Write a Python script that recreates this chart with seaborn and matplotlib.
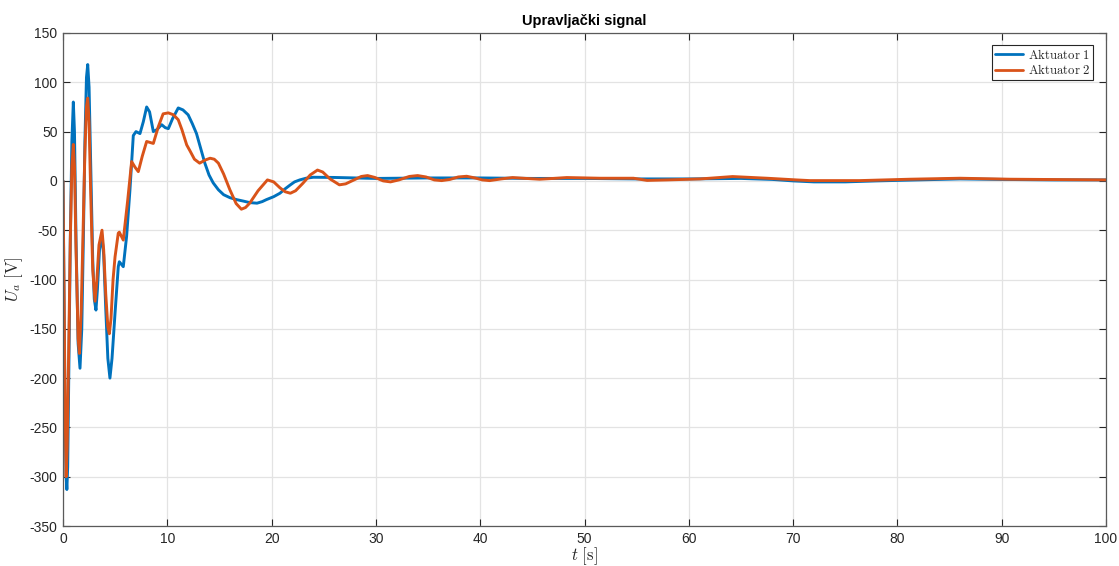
import numpy as np
import pandas as pd
import matplotlib
matplotlib.use("Agg")
import matplotlib.pyplot as plt
import seaborn as sns

# ---- data ----
t1 = [0, 0.1, 0.2, 0.3, 0.37, 0.45, 0.55, 0.7, 0.85, 0.99, 1.1, 1.25, 1.45, 1.63, 1.8,
      1.95, 2.1, 2.25, 2.37, 2.5, 2.65, 2.85, 3.0, 3.16, 3.3, 3.5, 3.72, 3.9, 4.1, 4.3,
      4.5, 4.7, 4.99, 5.3, 5.4, 5.78, 6.1, 6.42, 6.74, 7.0, 7.38, 7.7, 8.02, 8.3, 8.66,
      9.0, 9.46, 9.8, 10.1, 10.5, 11.05, 11.5, 12.0, 12.4, 12.8, 13.2, 13.6, 14.0, 14.4,
      14.9, 15.4, 16.0, 16.65, 17.3, 17.9, 18.6, 19.1, 19.5, 20.2, 20.8, 21.3, 21.8, 22.2,
      22.7, 23.3, 24.0, 26, 30, 35, 40, 45, 50, 55, 60, 65, 68, 70, 72, 75, 78, 82, 86,
      90, 95, 100]
u1 = [0, -120, -240, -300, -313, -290, -200, -60, 40, 80, 50, -60, -165, -190, -150,
      -60, 40, 105, 118, 95, 20, -80, -120, -131, -110, -70, -55, -75, -130, -180,
      -200, -180, -134, -87, -82, -87, -56, -9, 46, 50, 48, 60, 75, 70, 50,
      52, 57, 54, 53, 63, 74, 72, 67, 58, 48, 33, 18, 6, -2,
      -9, -14, -17, -19, -20.5, -22, -22.6, -21, -19, -16, -12.5, -8, -4, -1,
      1, 2.7, 3.7, 3.5, 2.5, 3, 3, 2.5, 2.5, 2, 2, 2.5, 1.5, 0, -1, -1, 0, 1, 2,
      1.5, 1, 1]

t2 = [0, 0.1, 0.2, 0.3, 0.4, 0.55, 0.7, 0.85, 0.99, 1.1, 1.25, 1.45, 1.57, 1.75, 1.95,
      2.1, 2.25, 2.37, 2.5, 2.65, 2.85, 3.07, 3.25, 3.45, 3.74, 3.9, 4.1, 4.3, 4.44, 4.6,
      4.8, 4.99, 5.3, 5.4, 5.78, 6.2, 6.58, 6.9, 7.22, 7.6, 8.02, 8.66, 9.14, 9.6, 10.1,
      10.6, 11.05, 11.4, 11.86, 12.2, 12.6, 13.1, 13.6, 14.1, 14.5, 14.9, 15.4, 16.0, 16.6,
      17.1, 17.5, 17.9, 18.7, 19.6, 20.2, 20.8, 21.3, 21.8, 22.3, 23.0, 23.7, 24.4, 24.9,
      25.6, 26.5, 27.1, 27.9, 28.6, 29.2, 29.9, 30.7, 31.4, 32.2, 33.2, 34.0, 34.8, 35.6,
      36.3, 37.1, 37.9, 38.7, 39.5, 40.2, 40.9, 42.0, 43.1, 44.4, 45.7, 47.0, 48.3, 51.5,
      54.7, 56, 57.9, 61.1, 64.2, 67.5, 70.3, 71.6, 76.4, 81.2, 86, 90.8, 100]
u2 = [0, -110, -230, -300, -270, -170, -60, 15, 37, 15, -70, -160, -175, -130, -40,
      30, 75, 84, 60, -10, -90, -122, -100, -65, -50, -70, -115, -148, -155, -140,
      -100, -77, -53, -52, -60, -20, 19.6, 14, 9.4, 25, 40, 38, 55, 68, 69,
      67, 62, 52, 36.5, 30, 22, 18, 21, 23, 22, 18, 7, -9, -23,
      -28.7, -27, -22.6, -10, 1, -1, -7, -11, -12.5, -10, -2.4, 6, 11, 9,
      2, -4, -3, 1, 4.5, 5.4, 3.5, 0, -1, 1, 4.5, 5.4, 4, 1,
      0.3, 1.5, 4, 4.7, 3, 1, 0.3, 2, 3.4, 2.5, 1.7, 2.5, 3.4, 2.7,
      2.7, 0.5, 1, 2, 4.4, 2.7, 1, 0.3, 0.3, 1.7, 2.7, 1.7, 1]

series_names = ["Aktuator 1", "Aktuator 2"]
xticks = list(range(0, 101, 10))
yticks = list(range(-350, 151, 50))
title = "Upravljački signal"

df = pd.concat([
    pd.DataFrame({"t": t1, "u": u1, "s": series_names[0]}),
    pd.DataFrame({"t": t2, "u": u2, "s": series_names[1]}),
], ignore_index=True)

sns.set_theme(style="white")
plt.rcParams["font.family"] = ["Liberation Sans", "DejaVu Sans"]
plt.rcParams["mathtext.fontset"] = "cm"
plt.rcParams["axes.unicode_minus"] = False

fig = plt.figure(figsize=(11.19, 5.66), dpi=100)
ax = fig.add_axes([63 / 1119, 1 - 526 / 566, (1106 - 63) / 1119, (526 - 33) / 566])

palette = {series_names[0]: "#0072BD", series_names[1]: "#D95319"}
sns.lineplot(data=df, x="t", y="u", hue="s", palette=palette, sort=False,
             estimator=None, linewidth=2.1, ax=ax, legend=False)

ax.set_xlim(0, 100)
ax.set_ylim(-350, 150)
ax.set_xticks(xticks)
ax.set_yticks(yticks)
ax.grid(True, color="#e3e3e3", linewidth=0.9)
ax.set_axisbelow(True)
for sp in ax.spines.values():
    sp.set_visible(True)
    sp.set_color("#5a5a5a")
    sp.set_linewidth(0.9)
ax.tick_params(axis="both", direction="in", length=5, width=0.8, color="#262626",
               labelsize=10, labelcolor="#262626", top=True, right=True,
               bottom=True, left=True, pad=4)

ax.set_xlabel(r"$t\ \mathrm{[s]}$", fontsize=12, color="#262626", labelpad=0)
ax.set_ylabel(r"$U_a\ \mathrm{[V]}$", fontsize=12, color="#262626")
ax.yaxis.set_label_coords(-0.036, 0.5)
ax.set_title(title, fontsize=10.5, fontweight="bold", color="#000000", pad=6)

handles = [plt.Line2D([], [], color=palette[n], lw=2) for n in series_names]
labels = [r"$\mathrm{Aktuator\ 1}$", r"$\mathrm{Aktuator\ 2}$"]
leg = ax.legend(handles, labels, loc="upper right", fontsize=9.2, frameon=True,
                fancybox=False, edgecolor="#262626", framealpha=1,
                borderpad=0.22, handlelength=2.2, handletextpad=0.35,
                labelspacing=0.1, borderaxespad=0,
                bbox_to_anchor=(0.9875, 0.9757))
leg.get_frame().set_linewidth(0.8)

fig.savefig("out.png", dpi=100)
